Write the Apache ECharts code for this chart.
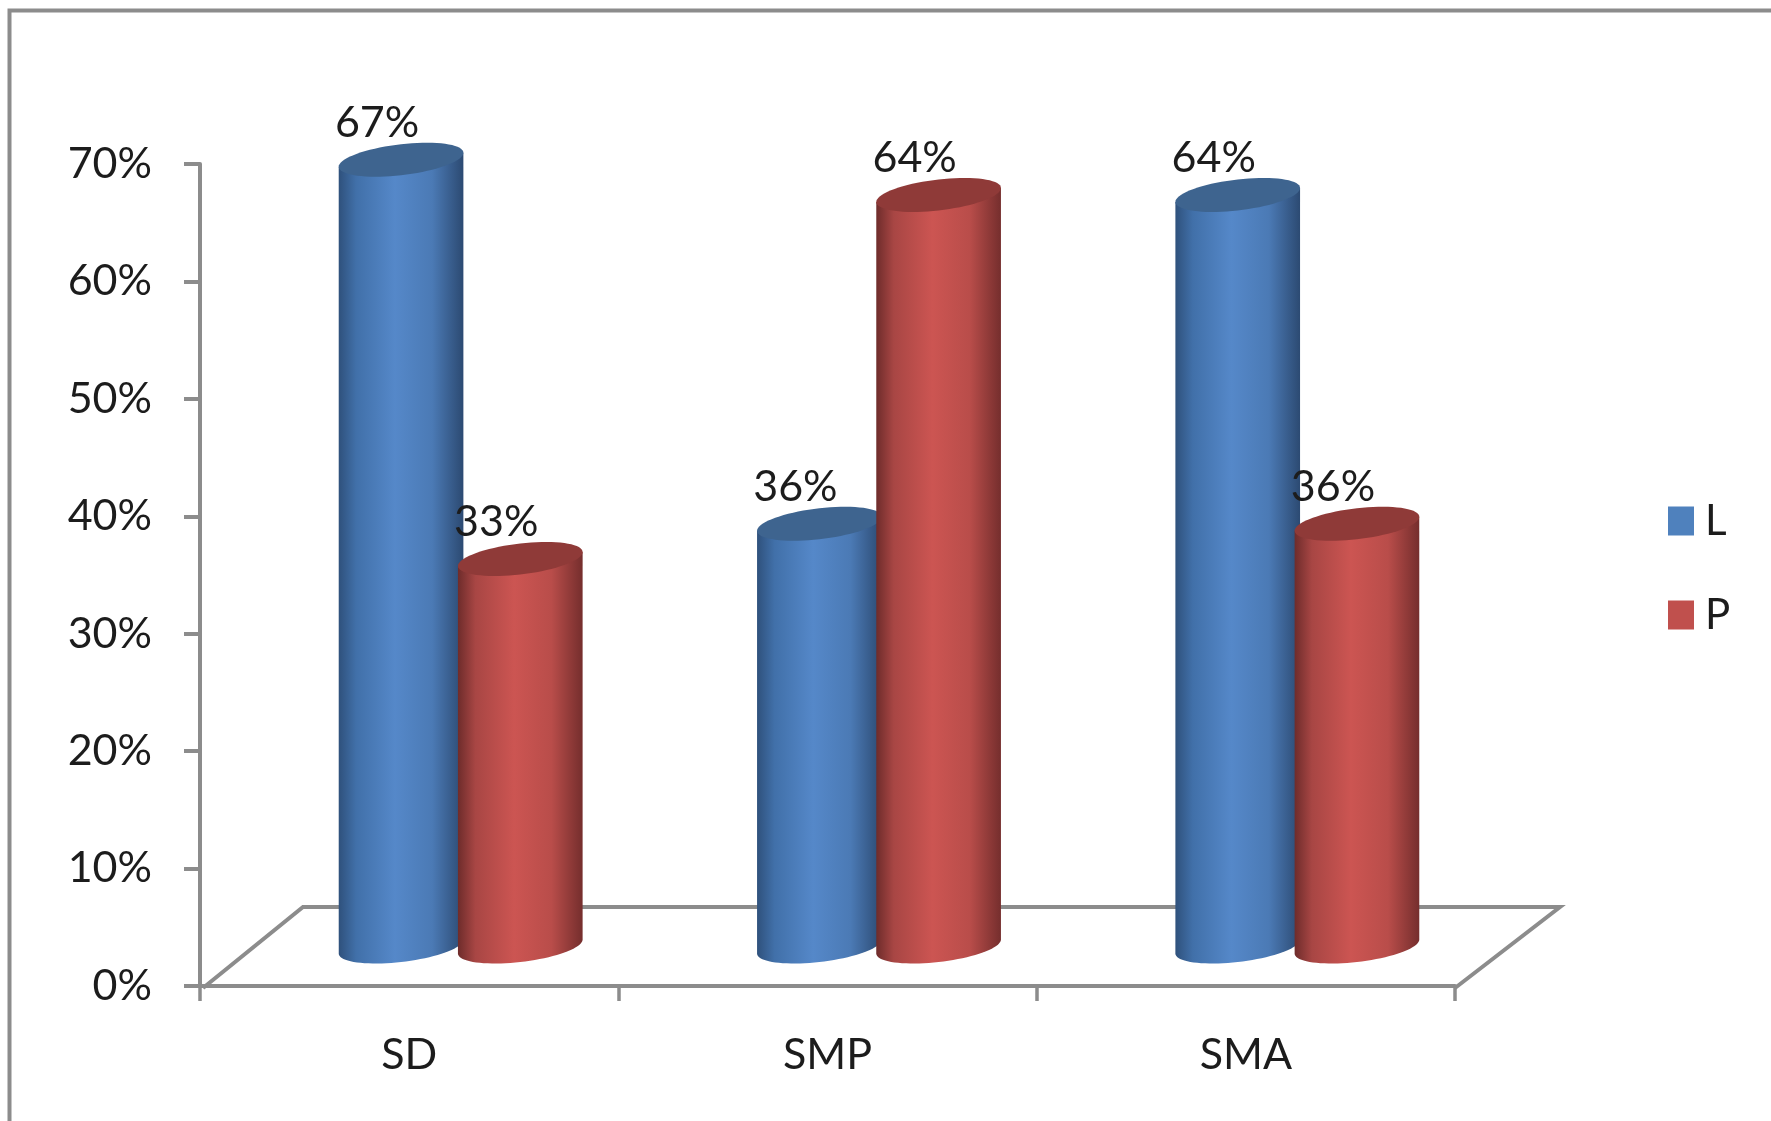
<!DOCTYPE html>
<html>
<head>
<meta charset="utf-8">
<style>html,body{margin:0;padding:0;background:#fff;overflow:hidden}#c{width:1771px;height:1121px}</style>
<script src="https://cdn.jsdelivr.net/npm/echarts@6/dist/echarts.min.js"></script>
</head>
<body>
<div id="c"></div>
<script>
const categories = ['SD', 'SMP', 'SMA'];
const valuesL = [67, 36, 64];
const valuesP = [33, 64, 36];
const yTicks = { min: 0, max: 70, interval: 10 };

const FONT = 'Lato';
const TEXT = '#1c1c1c';
const GREY = '#8c8c8c';
const DEPTH_X = 103, DEPTH_Y = 79;

function cylinder(side, palette) {
  return function (params, api) {
    const band = api.size([1, 0])[0];
    const base = api.coord([api.value(0), 0]);
    const top = api.coord([api.value(0), api.value(1)]);
    const cx = base[0] + DEPTH_X / 2 + side * band * 0.1425;
    const yBase = base[1] - DEPTH_Y / 2;
    const yTop = top[1] - DEPTH_Y / 2;
    const rx = band * 0.149, ry = 15.5, sh = 7;
    const bodyPts = [];
    for (let i = 0; i <= 40; i++) {
      const t = Math.PI * i / 40;
      bodyPts.push([cx + rx * Math.cos(t), yBase - sh * Math.cos(t) + ry * Math.sin(t)]);
    }
    bodyPts.push([cx - rx, yTop + sh], [cx + rx, yTop - sh]);
    const topPts = [];
    for (let i = 0; i < 72; i++) {
      const t = Math.PI * 2 * i / 72;
      topPts.push([cx + rx * Math.cos(t), yTop - sh * Math.cos(t) + ry * Math.sin(t)]);
    }
    return {
      type: 'group',
      children: [
        { type: 'polygon', shape: { points: bodyPts }, style: {
            fill: new echarts.graphic.LinearGradient(0, 0, 1, 0, palette.stops) } },
        { type: 'polygon', shape: { points: topPts }, style: { fill: palette.top } },
        { type: 'text', style: {
            text: api.value(1) + '%', x: cx - 24, y: yTop - 37,
            align: 'center', verticalAlign: 'middle',
            font: '43px "' + FONT + '"', fill: TEXT } }
      ]
    };
  };
}

const blue = { top: '#3e648f', stops: [
  { offset: 0, color: '#2f517c' }, { offset: 0.14, color: '#4170a9' },
  { offset: 0.45, color: '#5588c9' }, { offset: 0.75, color: '#4b7ab5' },
  { offset: 1, color: '#2c4a72' }] };
const red = { top: '#8f3a38', stops: [
  { offset: 0, color: '#6e2c2b' }, { offset: 0.14, color: '#a84644' },
  { offset: 0.45, color: '#cc5552' }, { offset: 0.75, color: '#b94d4a' },
  { offset: 1, color: '#752e2d' }] };

const chart = echarts.init(document.getElementById('c'));
chart.setOption({
  animation: false,
  backgroundColor: '#fff',
  graphic: [{ type: 'rect', z: -10, left: 7, top: 8,
    shape: { width: 1900, height: 1300 },
    style: { fill: 'none', stroke: GREY, lineWidth: 4 } }],
  grid: { left: 200, right: 316, top: 164, bottom: 135 },
  legend: {
    data: ['L', 'P'], orient: 'vertical', left: 1663, top: 495,
    icon: 'rect', itemWidth: 26, itemHeight: 29, itemGap: 52,
    textStyle: { fontFamily: FONT, fontSize: 42, color: TEXT, padding: [0, 0, 0, 6] },
    selectedMode: false
  },
  xAxis: {
    type: 'category', data: categories, offset: 2,
    axisLine: { lineStyle: { color: GREY, width: 4 } },
    axisTick: { show: true, length: 15, lineStyle: { color: GREY, width: 3.5 } },
    axisLabel: { margin: 46, fontFamily: FONT, fontSize: 43, color: TEXT }
  },
  yAxis: {
    type: 'value', min: yTicks.min, max: yTicks.max, interval: yTicks.interval,
    splitLine: { show: false },
    axisLine: { show: true, lineStyle: { color: GREY, width: 4 } },
    axisTick: { show: true, length: 16, lineStyle: { color: GREY, width: 4 } },
    axisLabel: { margin: 48, padding: [8, 0, 0, 0], formatter: '{value}%', fontFamily: FONT, fontSize: 43, color: TEXT }
  },
  series: [
    { name: 'floor', type: 'custom', silent: true, z: 1, data: [[0, 0]],
      renderItem: function (params) {
        const s = params.coordSys;
        const x0 = s.x, x1 = s.x + s.width, y0 = s.y + s.height;
        return { type: 'polyline', shape: { points: [
            [x0 + 3, y0 + 2], [x0 + DEPTH_X, y0 - DEPTH_Y], [x1 + DEPTH_X + 2, y0 - DEPTH_Y], [x1, y0 + 2]] },
          style: { fill: null, stroke: GREY, lineWidth: 4 } };
      } },
    { name: 'L', type: 'custom', z: 2, itemStyle: { color: '#4f81bd' },
      data: categories.map((c, i) => [i, valuesL[i]]), renderItem: cylinder(-1, blue) },
    { name: 'P', type: 'custom', z: 3, itemStyle: { color: '#c0504d' },
      data: categories.map((c, i) => [i, valuesP[i]]), renderItem: cylinder(1, red) }
  ]
});
</script>
</body>
</html>
